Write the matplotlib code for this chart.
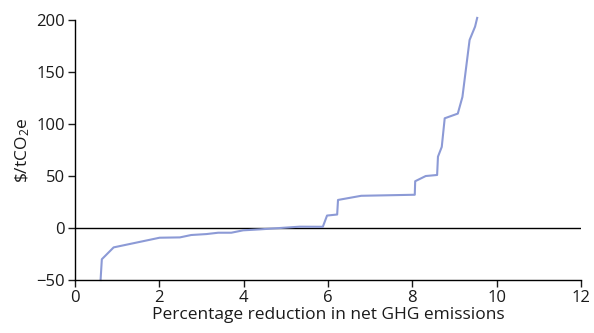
import matplotlib
matplotlib.use("Agg")
import matplotlib.pyplot as plt

plt.rcParams['font.family'] = ['Open Sans', 'DejaVu Sans']
plt.rcParams['mathtext.fontset'] = 'custom'
plt.rcParams['mathtext.rm'] = 'Open Sans'
plt.rcParams['mathtext.it'] = 'Open Sans'

pct_reduction = [0.61, 0.64, 0.92, 2.01, 2.49, 2.76, 3.12, 3.40, 3.71, 3.99, 4.38,
                 5.33, 5.88, 5.98, 6.22, 6.24, 6.79, 8.06, 8.07, 8.32, 8.59, 8.61,
                 8.70, 8.77, 9.08, 9.19, 9.36, 9.49, 9.54]
cost = [-50, -30, -18.6, -9.3, -9, -6.7, -5.8, -4.5, -4.5, -2.2, -1.3,
        1.3, 1.2, 12, 13, 27, 31, 32, 45, 50, 51, 68.6,
        78, 105.5, 110, 126, 180.8, 193.6, 202]

xticks = [0, 2, 4, 6, 8, 10, 12]
yticks = [-50, 0, 50, 100, 150, 200]

fig = plt.figure(figsize=(5.94, 3.33), dpi=100)
ax = fig.add_axes([0.126, 0.159, 0.852, 0.781])

ax.axhline(0, color='black', lw=1.0, zorder=1)
ax.plot(pct_reduction, cost, color='#8c9ad6', lw=1.5, zorder=2, clip_on=False)

ax.set_xlim(0, 12)
ax.set_ylim(-50, 200)
ax.set_xticks(xticks)
ax.set_yticks(yticks)
for s in ['top', 'right']:
    ax.spines[s].set_visible(False)
for s in ['left', 'bottom']:
    ax.spines[s].set_linewidth(1.0)
ax.tick_params(direction='out', length=5, width=1, labelsize=12, colors='#1a1a1a', pad=2)
ax.set_xlabel('Percentage reduction in net GHG emissions', fontsize=12.5, labelpad=1, color='#1a1a1a')
ax.set_ylabel(r'\$/tCO$_2$e', fontsize=12.5, labelpad=3, color='#1a1a1a')

fig.savefig('out.png', dpi=100)
